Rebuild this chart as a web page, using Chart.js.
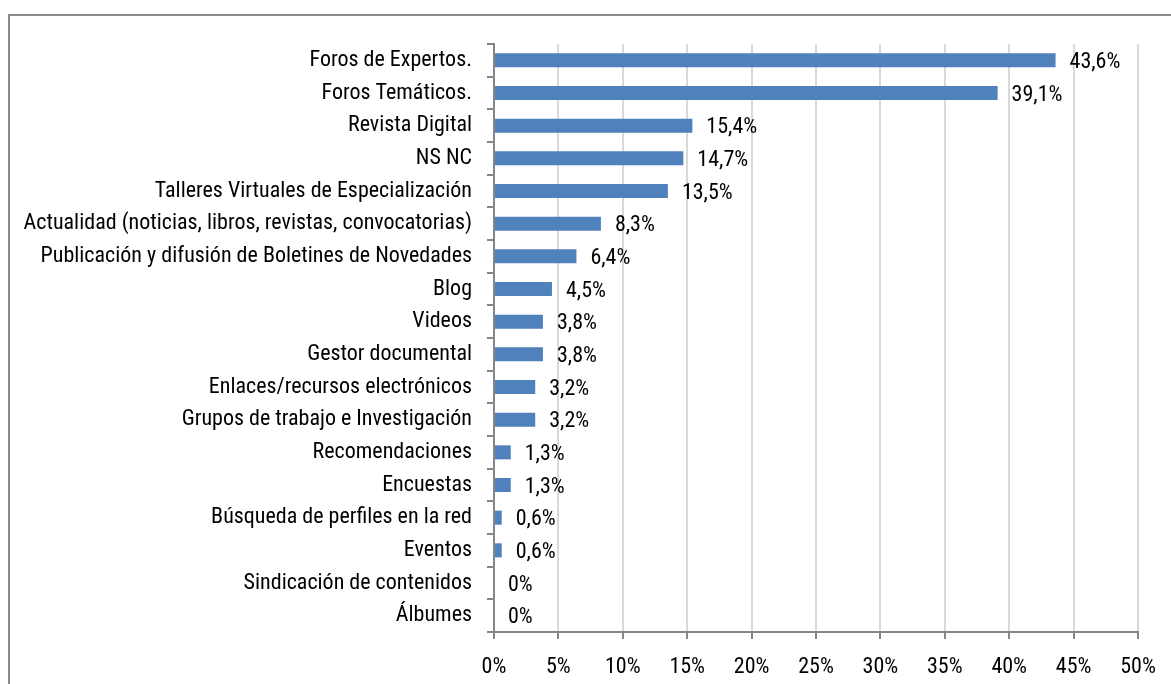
<!DOCTYPE html>
<html>
<head>
<meta charset="utf-8">
<title>Servicios preferidos</title>
<script src="https://cdn.jsdelivr.net/npm/chart.js@4/dist/chart.umd.min.js"></script>
<style>
  html, body { margin: 0; padding: 0; background: #fff; overflow: hidden; }
  #frame {
    position: absolute; left: 8px; top: 14px;
    width: 1200px; height: 720px;
    border: 2px solid #8a8a8a; box-sizing: border-box;
  }
  #wrap { position: absolute; left: 0; top: 0; width: 1171px; height: 684px; }
</style>
</head>
<body>
<div id="frame"></div>
<div id="wrap"><canvas id="myChart" width="1171" height="684"></canvas></div>
<script>
'use strict';

var categories = [
  'Foros de Expertos.',
  'Foros Temáticos.',
  'Revista Digital',
  'NS NC',
  'Talleres Virtuales de Especialización',
  'Actualidad (noticias, libros, revistas, convocatorias)',
  'Publicación y difusión de Boletines de Novedades',
  'Blog',
  'Videos',
  'Gestor documental',
  'Enlaces/recursos electrónicos',
  'Grupos de trabajo e Investigación',
  'Recomendaciones',
  'Encuestas',
  'Búsqueda de perfiles en la red',
  'Eventos',
  'Sindicación de contenidos',
  'Álbumes'
];
var percentages = [43.6, 39.1, 15.4, 14.7, 13.5, 8.3, 6.4, 4.5, 3.8, 3.8, 3.2, 3.2, 1.3, 1.3, 0.6, 0.6, 0, 0];
var xTicks = [0, 5, 10, 15, 20, 25, 30, 35, 40, 45, 50];

var fontFamily = "'Liberation Sans Narrow', 'Arial Narrow', 'Roboto Condensed', sans-serif";
var fontSize = 22;
var axisGray = '#868686';

function fmt(v) {
  if (v === 0) return '0%';
  return v.toFixed(1).replace('.', ',') + '%';
}

// writes the percentage just past the end of each bar
var barLabels = {
  id: 'barLabels',
  afterDatasetsDraw: function(chart) {
    var c = chart.ctx;
    var meta = chart.getDatasetMeta(0);
    c.save();
    c.font = fontSize + 'px ' + fontFamily;
    c.fillStyle = '#000';
    c.textAlign = 'left';
    c.textBaseline = 'middle';
    meta.data.forEach(function(bar, i) {
      c.fillText(fmt(percentages[i]), bar.x + 14, bar.y + 2);
    });
    c.restore();
  }
};

var ctx = document.getElementById('myChart');
var myChart = new Chart(ctx, {
  type: 'bar',
  data: {
    labels: categories,
    datasets: [{
      data: percentages,
      backgroundColor: '#4F81BD',
      borderWidth: 0,
      categoryPercentage: 1,
      barPercentage: 0.43
    }]
  },
  options: {
    indexAxis: 'y',
    responsive: false,
    animation: false,
    layout: { padding: { left: 0, top: 44, right: 33, bottom: 0 } },
    plugins: { legend: { display: false }, tooltip: { enabled: false } },
    scales: {
      x: {
        min: 0,
        max: 50,
        afterBuildTicks: function(scale) {
          scale.ticks = xTicks.map(function(v) { return { value: v }; });
        },
        afterFit: function(scale) { scale.height = 52; },
        grid: { color: '#d9d9d9', lineWidth: 2, tickColor: axisGray, tickLength: 7 },
        border: { color: axisGray, width: 2 },
        ticks: {
          color: '#000',
          padding: 15,
          font: { family: fontFamily, size: fontSize },
          callback: function(v) { return v + '%'; }
        }
      },
      y: {
        afterFit: function(scale) { scale.width = 494; },
        grid: { drawOnChartArea: false, offset: true, tickColor: axisGray, tickLength: 7, lineWidth: 2 },
        border: { color: axisGray, width: 2 },
        ticks: {
          color: '#000',
          padding: 15,
          autoSkip: false,
          font: { family: fontFamily, size: fontSize }
        }
      }
    }
  },
  plugins: [barLabels]
});
</script>
</body>
</html>
